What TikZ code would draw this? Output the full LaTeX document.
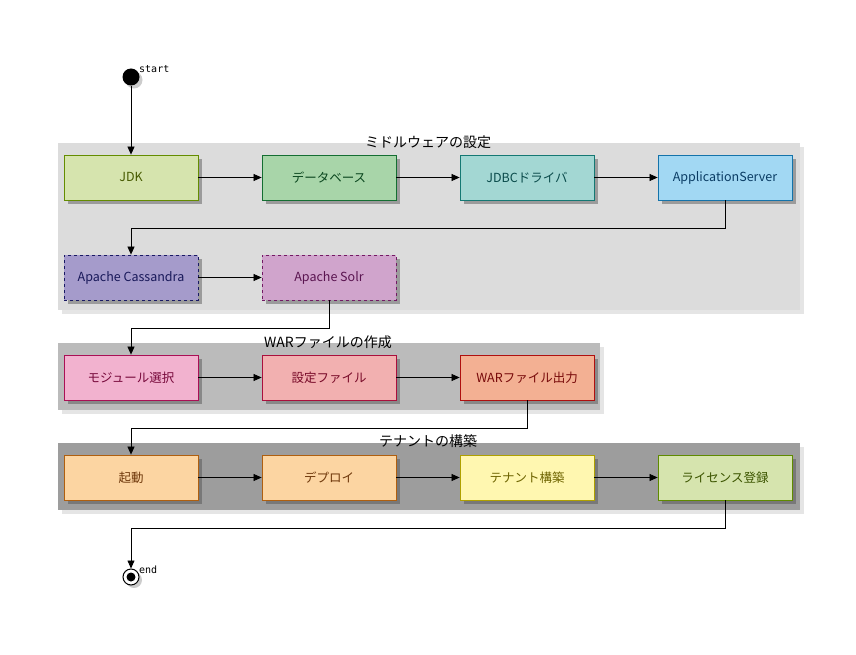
\documentclass[tikz,border=0pt]{standalone}
\usepackage{fontspec}
\setmainfont{Noto Sans CJK JP}
\newfontfamily\monofont{DejaVu Sans Mono}
\usetikzlibrary{arrows.meta,shadows}
\definecolor{gA}{HTML}{DCDCDC}
\definecolor{gB}{HTML}{BBBBBB}
\definecolor{gC}{HTML}{9D9D9D}
\tikzset{
  box/.style={rectangle, minimum width=134pt, minimum height=45pt, line width=0.8pt, inner sep=0pt,
    font=\fontsize{12.5}{14}\selectfont, drop shadow={shadow xshift=4pt, shadow yshift=-4pt, opacity=0.45, fill=black!70}},
  grp/.style={draw=none, drop shadow={shadow xshift=4pt, shadow yshift=-4pt, opacity=0.2}},
  gtitle/.style={font=\fontsize{14}{16}\selectfont, inner sep=1pt},
  flow/.style={line width=0.7pt, -{Triangle[length=8pt,width=7pt]}},
  small/.style={font=\monofont\fontsize{10}{11}\selectfont, inner sep=0pt}
}
\begin{document}
\begin{tikzpicture}[x=1pt,y=-1pt]
\useasboundingbox[fill=white] (0,0) rectangle (856,655);
% groups
\fill[gA,grp] (58,143) rectangle (800,310);
\fill[gB,grp] (58,343) rectangle (600,410);
\fill[gC,grp] (58,443) rectangle (800,510);
\node[gtitle] (t1) at (428,142) {ミドルウェアの設定};
\node[gtitle] (t2) at (328,342) {WARファイルの作成};
\node[gtitle] (t3) at (428,441) {テナントの構築};
% start / end
\node[circle, fill=black, minimum size=17pt, inner sep=0pt, drop shadow={shadow xshift=3pt, shadow yshift=-3pt, opacity=0.4}] (start) at (131,77) {};
\node[small, anchor=south west] (startl) at (139,73) {start};
\node[circle, draw=black, line width=1pt, fill=white, minimum size=16pt, inner sep=0pt, drop shadow={shadow xshift=3pt, shadow yshift=-3pt, opacity=0.4}] (end) at (131,577) {};
\fill[black] (end.center) circle (4.5pt);
\node[small, anchor=south west] (endl) at (139,574) {end};
% row 1
\node[box, fill={rgb,255:red,214;green,228;blue,174}, draw={rgb,255:red,100;green,140;blue,0}, text={rgb,255:red,70;green,90;blue,0}] (jdk) at (131,177.5) {JDK};
\node[box, fill={rgb,255:red,168;green,213;blue,169}, draw={rgb,255:red,20;green,110;blue,50}, text={rgb,255:red,10;green,70;blue,30}] (db) at (329,177.5) {データベース};
\node[box, fill={rgb,255:red,163;green,215;blue,211}, draw={rgb,255:red,20;green,120;blue,115}, text={rgb,255:red,10;green,75;blue,75}] (jdbc) at (527,177.5) {JDBCドライバ};
\node[box, fill={rgb,255:red,162;green,216;blue,243}, draw={rgb,255:red,20;green,115;blue,170}, text={rgb,255:red,10;green,60;blue,100}] (as) at (725,177.5) {ApplicationServer};
% row 2
\node[box, dashed, fill={rgb,255:red,165;green,155;blue,203}, draw={rgb,255:red,25;green,25;blue,100}, text={rgb,255:red,25;green,25;blue,90}] (cas) at (131,277.5) {Apache Cassandra};
\node[box, dashed, fill={rgb,255:red,208;green,164;blue,204}, draw={rgb,255:red,115;green,25;blue,100}, text={rgb,255:red,90;green,20;blue,80}] (solr) at (329,277.5) {Apache Solr};
% row 3
\node[box, fill={rgb,255:red,242;green,178;blue,207}, draw={rgb,255:red,170;green,15;blue,85}, text={rgb,255:red,120;green,10;blue,60}] (mod) at (131,377.5) {モジュール選択};
\node[box, fill={rgb,255:red,242;green,176;blue,176}, draw={rgb,255:red,170;green,15;blue,60}, text={rgb,255:red,120;green,10;blue,40}] (conf) at (329,377.5) {設定ファイル};
\node[box, fill={rgb,255:red,243;green,176;blue,147}, draw={rgb,255:red,175;green,15;blue,15}, text={rgb,255:red,120;green,10;blue,10}] (war) at (527,377.5) {WARファイル出力};
% row 4
\node[box, fill={rgb,255:red,252;green,213;blue,162}, draw={rgb,255:red,175;green,95;blue,15}, text={rgb,255:red,110;green,55;blue,10}] (boot) at (131,477.5) {起動};
\node[box, fill={rgb,255:red,252;green,213;blue,162}, draw={rgb,255:red,175;green,95;blue,15}, text={rgb,255:red,110;green,55;blue,10}] (dep) at (329,477.5) {デプロイ};
\node[box, fill={rgb,255:red,255;green,247;blue,176}, draw={rgb,255:red,175;green,160;blue,0}, text={rgb,255:red,110;green,100;blue,0}] (ten) at (527,477.5) {テナント構築};
\node[box, fill={rgb,255:red,214;green,228;blue,174}, draw={rgb,255:red,95;green,138;blue,0}, text={rgb,255:red,60;green,85;blue,0}] (lic) at (725,477.5) {ライセンス登録};
% connectors
\draw[flow] (start) -- (jdk);
\draw[flow] (jdk) -- (db);
\draw[flow] (db) -- (jdbc);
\draw[flow] (jdbc) -- (as);
\draw[flow] (as.south) -- ++(0,28) -| (cas.north);
\draw[flow] (cas) -- (solr);
\draw[flow] (solr.south) -- ++(0,28) -| (mod.north);
\draw[flow] (mod) -- (conf);
\draw[flow] (conf) -- (war);
\draw[flow] (war.south) -- ++(0,28) -| (boot.north);
\draw[flow] (boot) -- (dep);
\draw[flow] (dep) -- (ten);
\draw[flow] (ten) -- (lic);
\draw[flow] (lic.south) -- ++(0,28) -| (end.north);
\end{tikzpicture}
\end{document}
